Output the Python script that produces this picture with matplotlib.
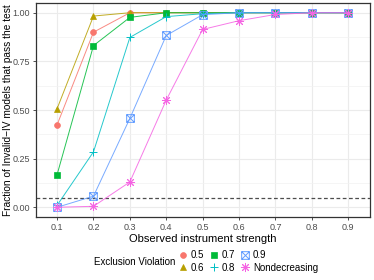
import matplotlib
matplotlib.use("Agg")
import matplotlib.pyplot as plt
from matplotlib.path import Path
from matplotlib.lines import Line2D

plt.rcParams["font.family"] = ["Liberation Sans", "DejaVu Sans"]

strength = [0.1, 0.2, 0.3, 0.4, 0.5, 0.6, 0.7, 0.8, 0.9]
x_labels = ["0.1", "0.2", "0.3", "0.4", "0.5", "0.6", "0.7", "0.8", "0.9"]
v05 = [0.424, 0.90, 1.0, 1.0, 1.0, 1.0, 1.0, 1.0, 1.0]
v06 = [0.507, 0.983, 1.0, 1.0, 1.0, 1.0, 1.0, 1.0, 1.0]
v07 = [0.168, 0.831, 0.976, 1.0, 1.0, 1.0, 1.0, 1.0, 1.0]
v08 = [0.01, 0.285, 0.873, 0.98, 0.995, 1.0, 1.0, 1.0, 1.0]
v09 = [0.0, 0.057, 0.457, 0.883, 0.99, 1.0, 1.0, 1.0, 1.0]
vnd = [0.0, 0.005, 0.13, 0.551, 0.914, 0.959, 0.991, 1.0, 1.0]
series_names = ["0.5", "0.6", "0.7", "0.8", "0.9", "Nondecreasing"]
threshold = 0.05

colors = ["#F8766D", "#B79F00", "#00BA38", "#00BFC4", "#619CFF", "#F564E3"]

sqx = Path([(-1, -1), (1, -1), (1, 1), (-1, 1), (-1, -1), (1, 1), (-1, 1), (1, -1)],
           [Path.MOVETO, Path.LINETO, Path.LINETO, Path.LINETO, Path.LINETO,
            Path.LINETO, Path.MOVETO, Path.LINETO])

styles = [
    dict(marker="o", ms=4.2, mfc=colors[0], mec=colors[0], mew=0.5),
    dict(marker="^", ms=4.8, mfc=colors[1], mec=colors[1], mew=0.5),
    dict(marker="s", ms=4.2, mfc=colors[2], mec=colors[2], mew=0.5),
    dict(marker="+", ms=6.0, mfc="none", mec=colors[3], mew=0.7),
    dict(marker=sqx, ms=5.5, mfc="none", mec=colors[4], mew=0.7),
    dict(marker=(8, 2, 0), ms=6.5, mfc="none", mec=colors[5], mew=0.7),
]

data = [v05, v06, v07, v08, v09, vnd]

fig = plt.figure(figsize=(3.74, 2.8), dpi=100)
ax = fig.add_axes([36/374, 1 - 217/280, (370-36)/374, (217-3)/280])

ax.set_facecolor("white")
ax.set_xlim(0.042, 0.96)
ax.set_ylim(-0.05, 1.05)
ax.set_xticks(strength)
ax.set_xticklabels(x_labels)
ax.set_yticks([0.0, 0.25, 0.5, 0.75, 1.0])
ax.set_yticklabels(["0.00", "0.25", "0.50", "0.75", "1.00"])
ax.set_yticks([0.125, 0.375, 0.625, 0.875], minor=True)
ax.grid(True, which="major", color="#EBEBEB", lw=0.8, zorder=0)
ax.grid(True, which="minor", axis="y", color="#F2F2F2", lw=0.5, zorder=0)
ax.set_axisbelow(True)
for s in ax.spines.values():
    s.set_color("#333333")
    s.set_linewidth(0.9)
ax.tick_params(axis="both", which="major", labelsize=6.5, labelcolor="#4D4D4D",
               color="#333333", length=2.5, width=0.6, pad=2)
ax.tick_params(axis="both", which="minor", length=0)

ax.axhline(threshold, color="#4D4D4D", ls=(0, (3, 2)), lw=0.9, zorder=1)

handles = []
for i, (vals, st) in enumerate(zip(data, styles)):
    ax.plot(strength, vals, color=colors[i], lw=0.7, alpha=0.85, zorder=2 + i)
    ax.plot(strength, vals, ls="none", zorder=2 + i, **st)
    handles.append(Line2D([], [], ls="none", **st))

ax.set_xlabel("Observed instrument strength", fontsize=8, labelpad=1.5)
fig.text(8/374, 1 - 110/280, "Fraction of Invalid\u2212IV models that pass the test",
         fontsize=7.3, rotation=90, va="center", ha="center")

fig.text(94/374, 1 - 262/280, "Exclusion Violation", fontsize=7, va="center", ha="left")
leg = fig.legend(handles, series_names, ncol=3, loc="center left",
                 bbox_to_anchor=(173/374, 1 - 261.5/280), frameon=False,
                 fontsize=7, handlelength=1.0, handletextpad=0.35,
                 columnspacing=0.45, labelspacing=0.25, borderpad=0)

fig.savefig("out.png", dpi=100)
